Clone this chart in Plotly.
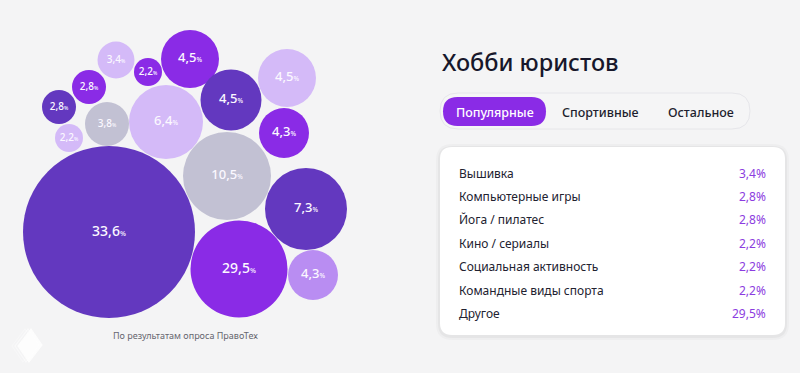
import plotly.graph_objects as go

# ---- data ----
bubble_values = [33.6, 29.5, 10.5, 7.3, 6.4, 4.5, 4.5, 4.5, 4.3, 4.3, 3.8, 3.4, 2.8, 2.8, 2.2, 2.2]
bubble_groups = ["dark", "bright", "grey", "dark", "light", "bright", "dark", "light",
                 "bright", "medium", "grey", "light", "bright", "dark", "bright", "light"]

table_labels = ["Вышивка", "Компьютерные игры", "Йога / пилатес", "Кино / сериалы",
                "Социальная активность", "Командные виды спорта", "Другое"]
table_values = [3.4, 2.8, 2.8, 2.2, 2.2, 2.2, 29.5]

tab_labels = ["Популярные", "Спортивные", "Остальное"]
title_text = "Хобби юристов"
note_text = "По результатам опроса ПравоТех"

# ---- layout (positions / sizes, pixels) ----
bubble_x = [109, 239, 227, 306, 166, 190, 231, 287, 284, 313, 107, 116, 89, 59, 148, 69]
bubble_y = [232, 269, 176, 209, 122, 59, 100, 78, 133, 275, 124, 60, 87, 107, 72, 138]
bubble_r = [86, 48.5, 44, 41, 37, 29, 30.5, 29, 25, 25, 22, 18.5, 17, 17, 14, 14]

palette = {"dark": "#6338BF", "bright": "#8A2BE6", "grey": "#C2C1D3",
           "light": "#D4BAF8", "medium": "#B98DF2"}

FONT = "Noto Sans"
BG = "#F4F4F5"
W, H = 800, 373


def fmt(v):
    return f"{v:.1f}".replace(".", ",")


def label_size(r):
    if r >= 45:
        return 14
    if r >= 24:
        return 13
    return 10


texts = []
sizes = []
for v, r in zip(bubble_values, bubble_r):
    s = label_size(r)
    sizes.append(s)
    texts.append(f"{fmt(v)}<span style='font-size:{s*0.5:.1f}px'>%</span>")

fig = go.Figure()
fig.add_trace(go.Scatter(
    x=bubble_x, y=bubble_y, mode="markers+text",
    marker=dict(size=[2 * r for r in bubble_r],
                color=[palette[g] for g in bubble_groups],
                line=dict(width=0), opacity=1),
    text=texts, textposition="middle center",
    textfont=dict(family=FONT, size=sizes, color="#FBF8FF", weight=500),
    hoverinfo="skip", showlegend=False,
))


def rrect(x0, y0, x1, y1, r):
    return (f"M {x0+r},{y0} L {x1-r},{y0} Q {x1},{y0} {x1},{y0+r} "
            f"L {x1},{y1-r} Q {x1},{y1} {x1-r},{y1} L {x0+r},{y1} "
            f"Q {x0},{y1} {x0},{y1-r} L {x0},{y0+r} Q {x0},{y0} {x0+r},{y0} Z")


shapes = []
# card shadow + card
for d, op in [(4, 0.025), (2, 0.035)]:
    shapes.append(dict(type="path", path=rrect(440 - d, 147 - d + 1, 785 + d, 335 + d + 1, 12 + d),
                       fillcolor="#000000", opacity=op, line=dict(width=0), layer="below",
                       xref="x", yref="y"))
shapes.append(dict(type="path", path=rrect(440, 147, 785, 335, 12),
                   fillcolor="#FFFFFF", line=dict(width=0), layer="below", xref="x", yref="y"))
# tab container
shapes.append(dict(type="path", path=rrect(440, 93, 750, 129, 18),
                   fillcolor="#F5F5F6", line=dict(color="#E6E6EA", width=1), layer="below",
                   xref="x", yref="y"))
# active tab
shapes.append(dict(type="path", path=rrect(443, 97, 546, 126, 14.5),
                   fillcolor="#8A2BE6", line=dict(width=0), layer="below", xref="x", yref="y"))
# logo (faint white diamond)
for dx, op in [(-6, 0.3), (-3, 0.5), (0, 0.85)]:
    shapes.append(dict(type="path",
                       path=f"M {31+dx},{329} L {42+dx},{345} L {29+dx},{362} L {18+dx},{346} Z",
                       fillcolor="rgba(255,255,255,0)" if dx else "#FFFFFF",
                       opacity=op, line=dict(color="#FFFFFF", width=1.2), layer="below",
                       xref="x", yref="y"))

annotations = []
annotations.append(dict(x=440, y=62, text=title_text, showarrow=False, xanchor="left",
                        yanchor="middle", font=dict(family=FONT, size=23.5, color="#17172B",
                                                    weight=500)))
tab_x = [495, 600, 701]
for i, (t, x) in enumerate(zip(tab_labels, tab_x)):
    annotations.append(dict(x=x, y=112, text=t, showarrow=False, xanchor="center",
                            yanchor="middle",
                            font=dict(family=FONT, size=12.5,
                                      color="#FFFFFF" if i == 0 else "#1E1E2E", weight=500)))
row_y0, row_dy = 173, 23.4
for i, (lab, val) in enumerate(zip(table_labels, table_values)):
    y = row_y0 + i * row_dy
    annotations.append(dict(x=457, y=y, text=lab, showarrow=False, xanchor="left",
                            yanchor="middle", font=dict(family=FONT, size=12, color="#222230")))
    annotations.append(dict(x=768, y=y, text=fmt(val) + "%", showarrow=False, xanchor="right",
                            yanchor="middle", font=dict(family=FONT, size=12, color="#8C3CE0")))
annotations.append(dict(x=185, y=335, text=note_text, showarrow=False, xanchor="center",
                        yanchor="middle", font=dict(family=FONT, size=9, color="#66666F")))

fig.update_layout(
    width=W, height=H, autosize=False,
    margin=dict(l=0, r=0, t=0, b=0, pad=0),
    paper_bgcolor=BG, plot_bgcolor=BG,
    xaxis=dict(range=[0, W], visible=False, fixedrange=True),
    yaxis=dict(range=[H, 0], visible=False, fixedrange=True),
    shapes=shapes, annotations=annotations,
)

fig.write_html(
    "out.html",
    config={"displayModeBar": False},
    post_script=(f"document.body.style.margin='0';document.body.style.padding='0';"
                 f"document.body.style.overflow='hidden';document.body.style.background='{BG}';"),
)
